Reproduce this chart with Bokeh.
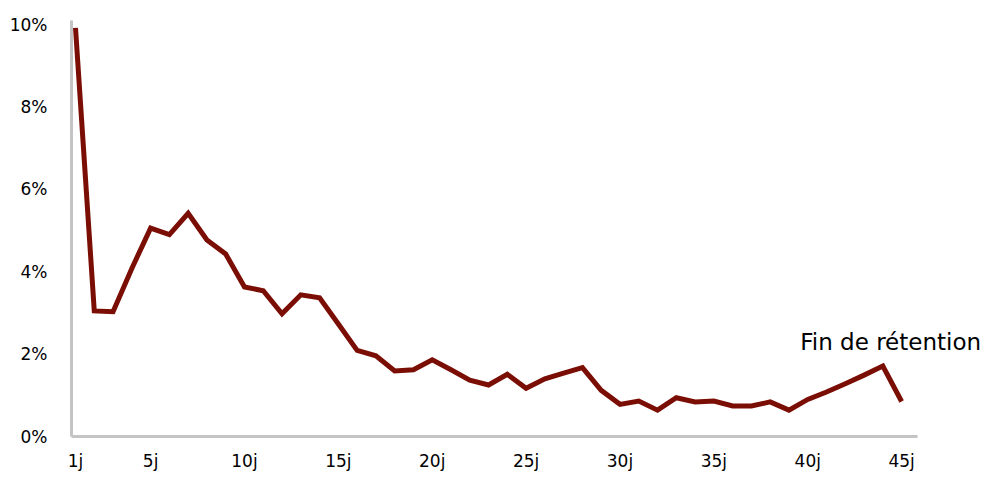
from bokeh.plotting import figure
from bokeh.models import FixedTicker, Label, Range1d
from bokeh.embed import file_html
from bokeh.resources import INLINE

days = list(range(1, 46))
retention = [9.92, 3.05, 3.03, 4.08, 5.06, 4.90, 5.42, 4.77, 4.43, 3.63,
             3.54, 2.98, 3.44, 3.37, 2.73, 2.09, 1.96, 1.59, 1.62, 1.86,
             1.62, 1.37, 1.25, 1.51, 1.17, 1.40, 1.54, 1.67, 1.12, 0.78,
             0.86, 0.64, 0.94, 0.84, 0.86, 0.74, 0.74, 0.84, 0.64, 0.90,
             1.08, 1.28, 1.49, 1.71, 0.85]

x_ticks = [1, 5, 10, 15, 20, 25, 30, 35, 40, 45]
x_tick_labels = ["1j", "5j", "10j", "15j", "20j", "25j", "30j", "35j", "40j", "45j"]
y_ticks = [0, 2, 4, 6, 8, 10]
y_tick_labels = ["0%", "2%", "4%", "6%", "8%", "10%"]
annotation_text = "Fin de rétention"

FONT = "DejaVu Sans"
TXT = "#000000"

p = figure(width=995, height=479, output_backend="svg", toolbar_location=None,
           x_range=Range1d(0.787, 50.0), y_range=Range1d(0, 10.1),
           min_border_left=71, min_border_right=0, min_border_top=20,
           min_border_bottom=43)
p.outline_line_color = None
p.grid.visible = False
p.background_fill_color = "white"
p.border_fill_color = "white"

p.line(days, retention, line_color="#7b0e04", line_width=5, line_join="miter")

for ax in (p.xaxis[0], p.yaxis[0]):
    ax.axis_line_color = "#c4c4c4"
    ax.axis_line_width = 3
    ax.major_tick_line_color = None
    ax.minor_tick_line_color = None
    ax.major_label_text_font = FONT
    ax.major_label_text_font_size = "17px"
    ax.major_label_text_color = TXT

p.xaxis.ticker = FixedTicker(ticks=x_ticks)
p.xaxis.major_label_overrides = {t: l for t, l in zip(x_ticks, x_tick_labels)}
p.xaxis.major_label_standoff = 8
p.xaxis.bounds = (0.787, 45.86)
p.yaxis.ticker = FixedTicker(ticks=y_ticks)
p.yaxis.major_label_overrides = {t: l for t, l in zip(y_ticks, y_tick_labels)}
p.yaxis.major_label_standoff = 18

p.add_layout(Label(x=39.6, y=2.3, text=annotation_text, text_font=FONT,
                   text_font_size="23px", text_color=TXT,
                   text_baseline="middle", text_align="left"))

open("out.html", "w").write(file_html(p, INLINE))
